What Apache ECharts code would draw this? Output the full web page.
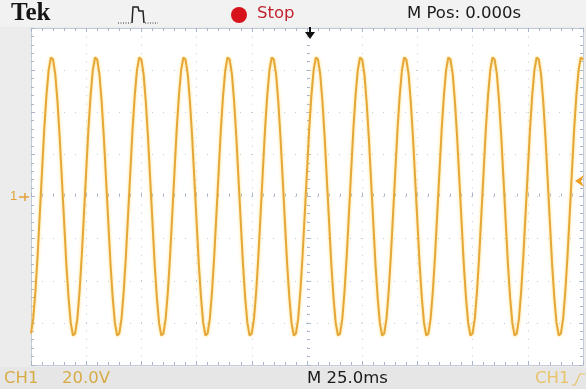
<!DOCTYPE html>
<html>
<head>
<meta charset="utf-8">
<script src="https://cdn.jsdelivr.net/npm/echarts@6/dist/echarts.min.js"></script>
<style>
  html, body { margin: 0; padding: 0; background: #ececec; }
  #chart { width: 586px; height: 389px; }
</style>
</head>
<body>
<div id="chart"></div>
<script>
// time base: 25.0 ms/div, M Pos 0.000s at the centre -> -125..125 ms
const timeStart = -125;
const timeStep = 1;
const timeRange = [-125, 125, 25];
// CH1: 20.0 V/div, 8 divisions
const voltRange = [-80, 80, 20];
// CH1 samples (V), one every ms
const ch1Volts = [
  -65, -58, -45, -28, -8, 12, 32, 48, 60, 66, 65, 58, 45, 28, 8, -12, -32, -48, -60, -66,
  -65, -58, -45, -28, -8, 12, 32, 48, 60, 66, 65, 58, 45, 28, 8, -12, -32, -48, -60, -66,
  -65, -58, -45, -28, -8, 12, 32, 48, 60, 66, 65, 58, 45, 28, 8, -12, -32, -48, -60, -66,
  -65, -58, -45, -28, -8, 12, 32, 48, 60, 66, 65, 58, 45, 28, 8, -12, -32, -48, -60, -66,
  -65, -58, -45, -28, -8, 12, 32, 48, 60, 66, 65, 58, 45, 28, 8, -12, -32, -48, -60, -66,
  -65, -58, -45, -28, -8, 12, 32, 48, 60, 66, 65, 58, 45, 28, 8, -12, -32, -48, -60, -66,
  -65, -58, -45, -28, -8, 12, 32, 48, 60, 66, 65, 58, 45, 28, 8, -12, -32, -48, -60, -66,
  -65, -58, -45, -28, -8, 12, 32, 48, 60, 66, 65, 58, 45, 28, 8, -12, -32, -48, -60, -66,
  -65, -58, -45, -28, -8, 12, 32, 48, 60, 66, 65, 58, 45, 28, 8, -12, -32, -48, -60, -66,
  -65, -58, -45, -28, -8, 12, 32, 48, 60, 66, 65, 58, 45, 28, 8, -12, -32, -48, -60, -66,
  -65, -58, -45, -28, -8, 12, 32, 48, 60, 66, 65, 58, 45, 28, 8, -12, -32, -48, -60, -66,
  -65, -58, -45, -28, -8, 12, 32, 48, 60, 66, 65, 58, 45, 28, 8, -12, -32, -48, -60, -66,
  -65, -58, -45, -28, -8, 12, 32, 48, 60, 66, 65
];

const chart = echarts.init(document.getElementById('chart'));

const gridColor = '#c3cbd8';
const tickColor = '#a9b6ca';
const traceColor = '#e6a73a';
const textFont = '16.5px "DejaVu Sans", "Liberation Sans", sans-serif';

function timeAxis(gridIndex, position, onZero, showSplit) {
  return {
    type: 'value', gridIndex: gridIndex, position: position,
    min: timeRange[0], max: timeRange[1], interval: timeRange[2],
    axisLine: { show: !onZero, onZero: onZero, lineStyle: { color: gridColor, width: 1 } },
    axisTick: { show: true, inside: true, length: 4, lineStyle: { color: tickColor } },
    minorTick: { show: true, splitNumber: 5, length: 3, lineStyle: { color: tickColor } },
    axisLabel: { show: false },
    splitLine: { show: showSplit, lineStyle: { color: gridColor, width: 1, type: [1, 7.4] } }
  };
}
function voltAxis(gridIndex, position, onZero, showSplit) {
  return {
    type: 'value', gridIndex: gridIndex, position: position,
    min: voltRange[0], max: voltRange[1], interval: voltRange[2],
    axisLine: { show: !onZero, onZero: onZero, lineStyle: { color: gridColor, width: 1 } },
    axisTick: { show: true, inside: true, length: 4, lineStyle: { color: tickColor } },
    minorTick: { show: true, splitNumber: 5, length: 3, lineStyle: { color: tickColor } },
    axisLabel: { show: false },
    splitLine: { show: showSplit, lineStyle: { color: gridColor, width: 1, type: [1, 10] } }
  };
}

const plotBox = { left: 31, top: 28, width: 552, height: 337 };

const option = {
  backgroundColor: '#ececec',
  animation: false,
  grid: [
    Object.assign({ show: true, backgroundColor: '#ffffff', borderWidth: 0 }, plotBox),
    Object.assign({ show: false }, plotBox)
  ],
  xAxis: [
    timeAxis(0, 'bottom', false, true),
    timeAxis(0, 'top', false, false),
    timeAxis(1, 'bottom', true, false)
  ],
  yAxis: [
    voltAxis(0, 'left', false, true),
    voltAxis(0, 'right', false, false),
    voltAxis(1, 'left', true, false)
  ],
  series: [
    {
      name: 'CH1',
      type: 'line',
      xAxisIndex: 0,
      yAxisIndex: 0,
      showSymbol: false,
      z: 5,
      data: ch1Volts.map((v, i) => [timeStart + i * timeStep, v]),
      lineStyle: {
        color: traceColor, width: 2,
        shadowColor: 'rgba(255, 220, 100, 0.9)', shadowBlur: 3
      }
    }
  ],
  graphic: [
    // top status bar
    { type: 'rect', shape: { x: 0, y: 0, width: 586, height: 27 }, style: { fill: '#f2f2f2' }, z: 1 },
    { type: 'text', x: 11, y: 1, z: 10, style: { text: 'Tek', font: 'bold 25px "Liberation Serif", "DejaVu Serif", serif', fill: '#151515' } },
    { type: 'polyline', z: 10, shape: { points: [[118, 23], [131, 23]] }, style: { stroke: '#333', lineWidth: 1, lineDash: [1, 1.5] } },
    { type: 'polyline', z: 10, shape: { points: [[132, 23], [133, 7], [138, 7], [139, 11], [143, 11], [144, 23]] }, style: { stroke: '#222', lineWidth: 1.5, fill: null } },
    { type: 'polyline', z: 10, shape: { points: [[145, 23], [158, 23]] }, style: { stroke: '#333', lineWidth: 1, lineDash: [1, 1.5] } },
    { type: 'circle', z: 10, shape: { cx: 239, cy: 15, r: 8 }, style: { fill: '#d7141b' } },
    { type: 'text', x: 257, y: 5, z: 10, style: { text: 'Stop', font: textFont, fill: '#c3242c' } },
    { type: 'text', x: 407, y: 5, z: 10, style: { text: 'M Pos: 0.000s', font: textFont, fill: '#1a1a1a' } },
    // trigger position marker
    { type: 'line', z: 10, shape: { x1: 310, y1: 27, x2: 310, y2: 35 }, style: { stroke: '#111', lineWidth: 2 } },
    { type: 'polygon', z: 10, shape: { points: [[305, 32], [315, 32], [310, 39]] }, style: { fill: '#111' } },
    // CH1 ground marker and trigger level
    { type: 'text', x: 10, y: 190, z: 10, style: { text: '1', font: '13px "Liberation Sans", Arial, sans-serif', fill: '#e2a23a' } },
    { type: 'line', z: 10, shape: { x1: 19, y1: 197, x2: 29, y2: 197 }, style: { stroke: '#e2a23a', lineWidth: 1.5 } },
    { type: 'line', z: 10, shape: { x1: 25, y1: 193, x2: 25, y2: 201 }, style: { stroke: '#e2a23a', lineWidth: 1.5 } },
    { type: 'polygon', z: 10, shape: { points: [[584, 175], [575, 181], [584, 187], [581, 181]] }, style: { fill: '#f0a020' } },
    // bottom status bar
    { type: 'rect', shape: { x: 0, y: 367, width: 586, height: 22 }, style: { fill: '#e6e6e6' }, z: 1 },
    { type: 'text', x: 4, y: 370, z: 10, style: { text: 'CH1', font: textFont, fill: '#d7ab45' } },
    { type: 'text', x: 62, y: 370, z: 10, style: { text: '20.0V', font: textFont, fill: '#d7ab45' } },
    { type: 'text', x: 307, y: 370, z: 10, style: { text: 'M 25.0ms', font: textFont, fill: '#1a1a1a' } },
    { type: 'text', x: 535, y: 370, z: 10, style: { text: 'CH1', font: textFont, fill: '#e8c36a' } },
    { type: 'polyline', z: 10, shape: { points: [[572, 385], [575, 385], [580, 374], [585, 374]] }, style: { stroke: '#e8c36a', lineWidth: 1.2, fill: null } }
  ]
};

chart.setOption(option);
</script>
</body>
</html>
